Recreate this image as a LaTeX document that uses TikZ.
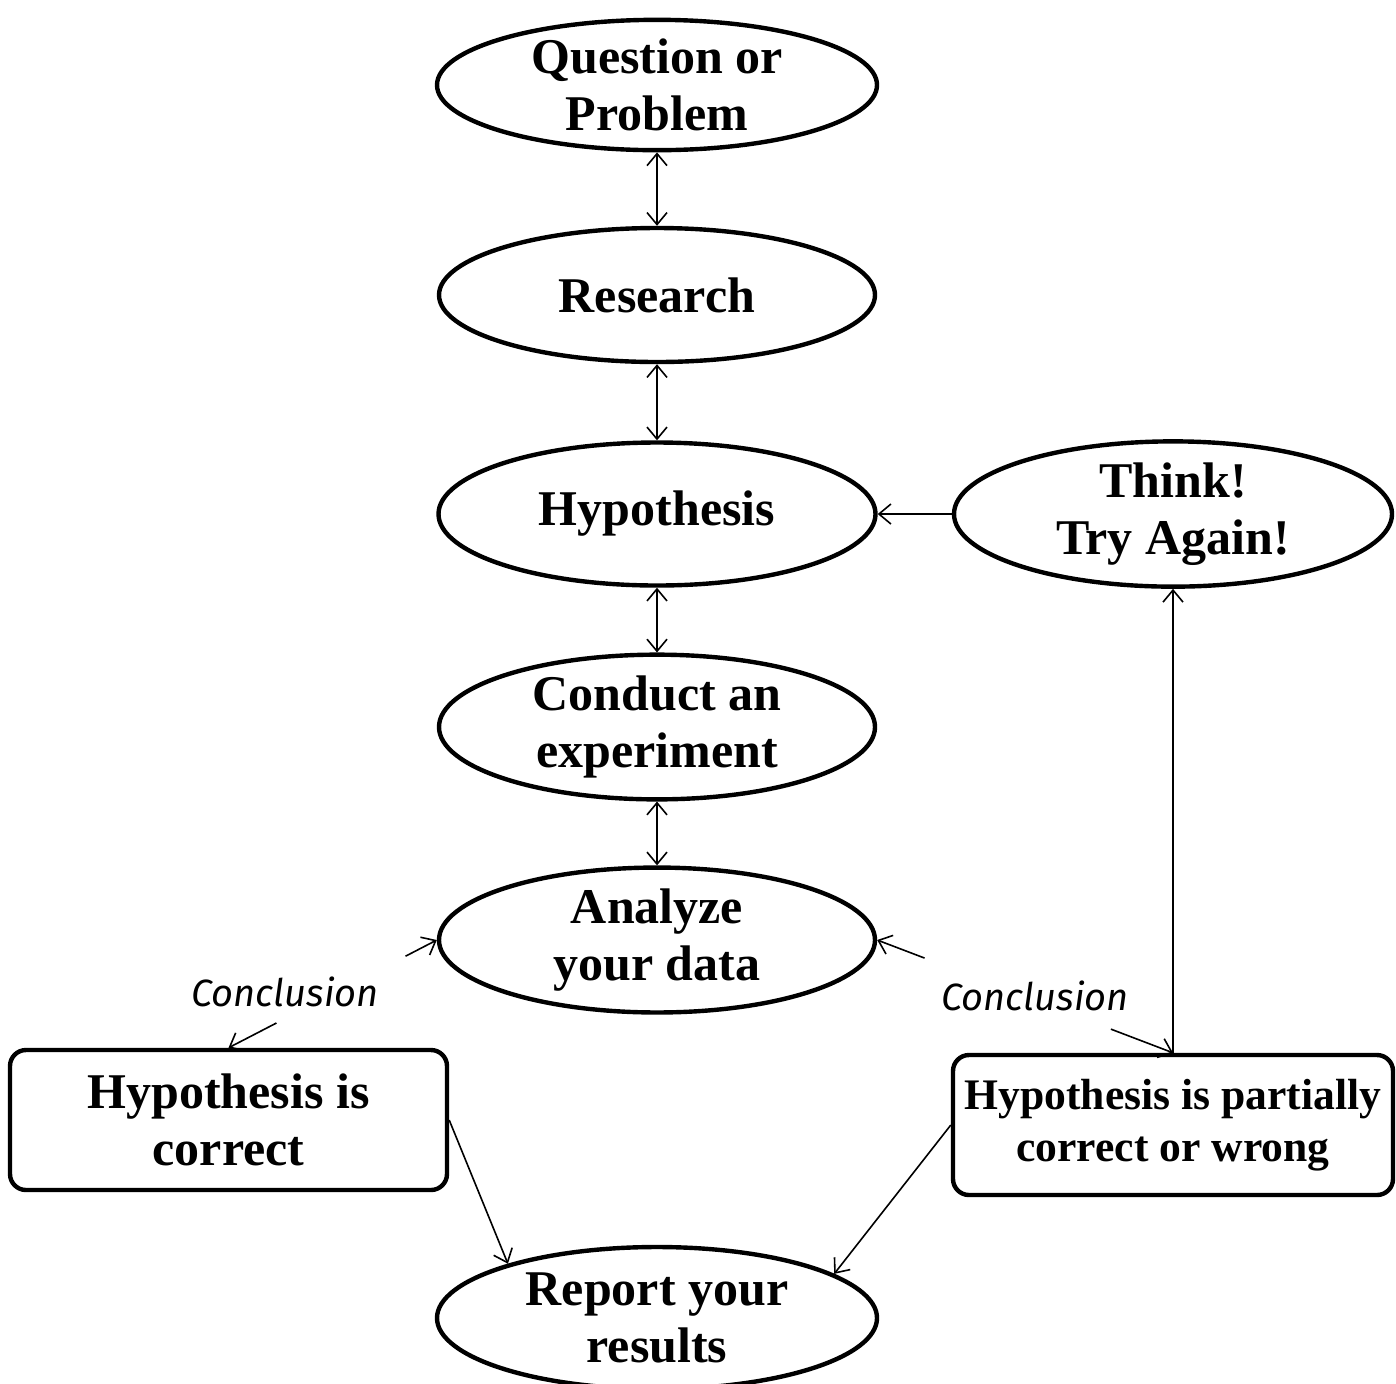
\documentclass[tikz,border=0pt]{standalone}
\usepackage{fontspec}
\setmainfont{Liberation Serif}
\newfontfamily\concfont{Fira Sans}
\usetikzlibrary{shapes.geometric,arrows.meta,calc}
\tikzset{
  oval/.style={ellipse,draw,line width=2.2pt,inner sep=0pt,align=center,
    font=\fontsize{25pt}{28.5pt}\selectfont\bfseries},
  rbox/.style={rectangle,rounded corners=8pt,draw,line width=2.2pt,inner sep=0pt,align=center,
    font=\fontsize{25pt}{28.5pt}\selectfont\bfseries},
  conn/.style={line width=0.8pt,-{Straight Barb[length=6pt,width=10pt]}},
  dconn/.style={line width=0.8pt,{Straight Barb[length=6pt,width=10pt]}-{Straight Barb[length=6pt,width=10pt]}},
  conc/.style={font=\concfont\itshape\fontsize{19pt}{22pt}\selectfont}
}
\begin{document}
\begin{tikzpicture}[x=0.5pt,y=-0.5pt]
\useasboundingbox (0,0) rectangle (1396,1383);
\node[oval,minimum width=220pt,minimum height=63pt] (q) at (657,85) {Question or\\Problem};
\node[oval,minimum width=218pt,minimum height=67pt] (r) at (657,295) {Research};
\node[oval,minimum width=218.5pt,minimum height=71.5pt] (h) at (657,514) {Hypothesis};
\node[oval,minimum width=218pt,minimum height=70pt] (c) at (657,727) {Conduct an\\experiment};
\node[oval,minimum width=218pt,minimum height=69pt] (a) at (657,940) {Analyze\\your data};
\node[oval,minimum width=220pt,minimum height=71pt] (rep) at (657,1318) {Report your\\results};
\node[oval,minimum width=219pt,minimum height=71.5pt] (t) at (1173,514) {Think!\\Try Again!};
\node[rbox,minimum width=218.5pt,minimum height=70pt] (hc) at (228.5,1120) {Hypothesis is\\correct};
\node[rbox,minimum width=220pt,minimum height=70pt,font=\fontsize{21.8pt}{26pt}\selectfont\bfseries] (hp) at (1173,1125) {Hypothesis is partially\\correct or wrong};

\draw[dconn] (q.south) -- (r.north);
\draw[dconn] (r.south) -- (h.north);
\draw[dconn] (h.south) -- (c.north);
\draw[dconn] (c.south) -- (a.north);
\draw[conn] (t.west) -- (h.east);
\draw[conn] (hp.north) -- (t.south);
\draw[conn] (hc.east) -- (rep.160);
\draw[conn] (hp.west) -- (rep.14);

\coordinate (l1) at ($(hc.north)!0.23!(a.west)$);
\coordinate (l2) at ($(hc.north)!0.85!(a.west)$);
\draw[conn] (l1) -- (hc.north);
\draw[conn] (l2) -- (a.west);
\node[conc] (cl) at (285,992) {Conclusion};

\coordinate (r1) at ($(hp.north)!0.21!(a.east)$);
\coordinate (r2) at ($(hp.north)!0.84!(a.east)$);
\draw[conn] (r1) -- (hp.north);
\draw[conn] (r2) -- (a.east);
\node[conc] (cr) at (1035,996) {Conclusion};
\end{tikzpicture}
\end{document}
